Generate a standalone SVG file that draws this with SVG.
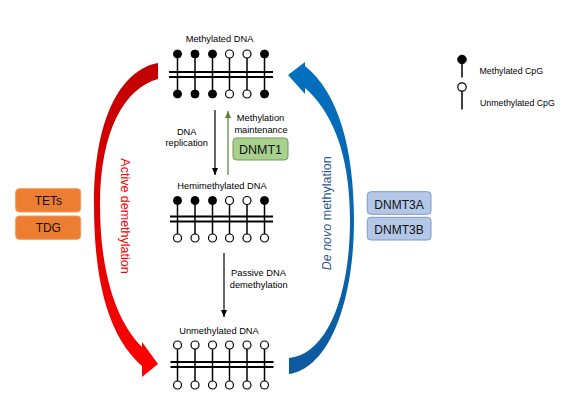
<svg xmlns="http://www.w3.org/2000/svg" width="573" height="404" viewBox="0 0 573 404">
<style>
  text { font-family: "Liberation Sans", Arial, sans-serif; fill: #000; }
  .lbl { font-size: 9.3px; text-anchor: middle; }
  .box { font-size: 12px; text-anchor: middle; fill: #111; }
  .leg { font-size: 8.8px; }
  .stem { stroke: #000; stroke-width: 1.5; }
  .bb { stroke: #000; stroke-width: 2; }
  .m { fill: #000; stroke: #000; stroke-width: 1; }
  .u { fill: #fff; stroke: #000; stroke-width: 1.2; }
  .arr { stroke: #000; stroke-width: 1.2; fill: none; }
</style>
<defs>
  <marker id="ahBlack" markerUnits="userSpaceOnUse" markerWidth="7" markerHeight="6" refX="7" refY="3" orient="auto">
    <path d="M0,0 L7,3 L0,6 z" fill="#000"/>
  </marker>
  <marker id="ahGreen" markerUnits="userSpaceOnUse" markerWidth="7" markerHeight="6" refX="7" refY="3" orient="auto">
    <path d="M0,0 L7,3 L0,6 z" fill="#548235"/>
  </marker>
  <linearGradient id="gRed" gradientUnits="userSpaceOnUse" x1="0" y1="63" x2="0" y2="377">
    <stop offset="0" stop-color="#C00000"/>
    <stop offset="1" stop-color="#FF0000"/>
  </linearGradient>
  <linearGradient id="gBlue" gradientUnits="userSpaceOnUse" x1="0" y1="62" x2="0" y2="374">
    <stop offset="0" stop-color="#0070C0"/>
    <stop offset="1" stop-color="#0E5AA0"/>
  </linearGradient>
</defs>

<!-- Methylated DNA -->
<g id="node-methylated">
  <text class="lbl" x="219.5" y="42">Methylated DNA</text>
  <g class="stem">
    <line x1="177.5" y1="54" x2="177.5" y2="94"/>
    <line x1="195" y1="54" x2="195" y2="94"/>
    <line x1="212.5" y1="54" x2="212.5" y2="94"/>
    <line x1="229.5" y1="54" x2="229.5" y2="94"/>
    <line x1="247" y1="54" x2="247" y2="94"/>
    <line x1="264.5" y1="54" x2="264.5" y2="94"/>
  </g>
  <line class="bb" x1="169" y1="72" x2="273" y2="72"/>
  <line class="bb" x1="169" y1="77" x2="273" y2="77"/>
  <circle class="m" cx="177.5" cy="54" r="4"/>
  <circle class="m" cx="195" cy="54" r="4"/>
  <circle class="m" cx="212.5" cy="54" r="4"/>
  <circle class="u" cx="229.5" cy="54" r="4"/>
  <circle class="u" cx="247" cy="54" r="4"/>
  <circle class="m" cx="264.5" cy="54" r="4"/>
  <circle class="m" cx="177.5" cy="94" r="4"/>
  <circle class="m" cx="195" cy="94" r="4"/>
  <circle class="m" cx="212.5" cy="94" r="4"/>
  <circle class="u" cx="229.5" cy="94" r="4"/>
  <circle class="u" cx="247" cy="94" r="4"/>
  <circle class="m" cx="264.5" cy="94" r="4"/>
</g>

<!-- Hemimethylated DNA -->
<g id="node-hemimethylated">
  <text class="lbl" x="222" y="189">Hemimethylated DNA</text>
  <g class="stem">
    <line x1="177.5" y1="200.5" x2="177.5" y2="238"/>
    <line x1="195" y1="200.5" x2="195" y2="238"/>
    <line x1="212.5" y1="200.5" x2="212.5" y2="238"/>
    <line x1="229.5" y1="200.5" x2="229.5" y2="238"/>
    <line x1="247" y1="200.5" x2="247" y2="238"/>
    <line x1="264.5" y1="200.5" x2="264.5" y2="238"/>
  </g>
  <line class="bb" x1="170" y1="216.5" x2="273" y2="216.5"/>
  <line class="bb" x1="170" y1="221.5" x2="273" y2="221.5"/>
  <circle class="m" cx="177.5" cy="200.5" r="4"/>
  <circle class="m" cx="195" cy="200.5" r="4"/>
  <circle class="m" cx="212.5" cy="200.5" r="4"/>
  <circle class="u" cx="229.5" cy="200.5" r="4"/>
  <circle class="u" cx="247" cy="200.5" r="4"/>
  <circle class="m" cx="264.5" cy="200.5" r="4"/>
  <circle class="u" cx="177.5" cy="238" r="4"/>
  <circle class="u" cx="195" cy="238" r="4"/>
  <circle class="u" cx="212.5" cy="238" r="4"/>
  <circle class="u" cx="229.5" cy="238" r="4"/>
  <circle class="u" cx="247" cy="238" r="4"/>
  <circle class="u" cx="264.5" cy="238" r="4"/>
</g>

<!-- Unmethylated DNA -->
<g id="node-unmethylated">
  <text class="lbl" x="219" y="334">Unmethylated DNA</text>
  <g class="stem">
    <line x1="177.5" y1="345" x2="177.5" y2="385"/>
    <line x1="195" y1="345" x2="195" y2="385"/>
    <line x1="212.5" y1="345" x2="212.5" y2="385"/>
    <line x1="229.5" y1="345" x2="229.5" y2="385"/>
    <line x1="247" y1="345" x2="247" y2="385"/>
    <line x1="264.5" y1="345" x2="264.5" y2="385"/>
  </g>
  <line class="bb" x1="170.5" y1="362" x2="273.5" y2="362"/>
  <line class="bb" x1="170.5" y1="367" x2="273.5" y2="367"/>
  <circle class="u" cx="177.5" cy="345" r="4"/>
  <circle class="u" cx="195" cy="345" r="4"/>
  <circle class="u" cx="212.5" cy="345" r="4"/>
  <circle class="u" cx="229.5" cy="345" r="4"/>
  <circle class="u" cx="247" cy="345" r="4"/>
  <circle class="u" cx="264.5" cy="345" r="4"/>
  <circle class="u" cx="177.5" cy="385" r="4"/>
  <circle class="u" cx="195" cy="385" r="4"/>
  <circle class="u" cx="212.5" cy="385" r="4"/>
  <circle class="u" cx="229.5" cy="385" r="4"/>
  <circle class="u" cx="247" cy="385" r="4"/>
  <circle class="u" cx="264.5" cy="385" r="4"/>
</g>

<!-- Enzyme boxes -->
<g id="node-tets">
  <rect x="15.7" y="188.7" width="65" height="23.3" rx="3.5" fill="#ED7D31" stroke="#F29A5C" stroke-width="1"/>
  <text class="box" x="48.3" y="205">TETs</text>
</g>
<g id="node-tdg">
  <rect x="15.7" y="216" width="65" height="23.3" rx="3.5" fill="#ED7D31" stroke="#F29A5C" stroke-width="1"/>
  <text class="box" x="48.3" y="232">TDG</text>
</g>
<g id="node-dnmt1">
  <rect x="233" y="138" width="55" height="22" rx="3.5" fill="#A9D18E" stroke="#6E9B50" stroke-width="1"/>
  <text class="box" x="260.5" y="153.5" style="font-size:12.5px">DNMT1</text>
</g>
<g id="node-dnmt3a">
  <rect x="367.3" y="191.7" width="63.7" height="22.6" rx="3.5" fill="#B4C7E7" stroke="#7C98CB" stroke-width="1"/>
  <text class="box" x="399" y="208.5">DNMT3A</text>
</g>
<g id="node-dnmt3b">
  <rect x="367.3" y="217.3" width="63.7" height="22.7" rx="3.5" fill="#B4C7E7" stroke="#7C98CB" stroke-width="1"/>
  <text class="box" x="399" y="234.3">DNMT3B</text>
</g>

<!-- Legend -->
<g id="legend">
  <line class="stem" x1="462" y1="59.5" x2="462" y2="77.5"/>
  <circle class="m" cx="462" cy="59.5" r="4.3"/>
  <text class="leg" x="479.5" y="74">Methylated CpG</text>
  <line class="stem" x1="462" y1="87" x2="462" y2="109.5"/>
  <circle class="u" cx="462" cy="87" r="4.2"/>
  <text class="leg" x="480" y="105.5">Unmethylated CpG</text>
</g>

<!-- Connectors -->
<g id="connectors">
  <line class="arr" x1="215" y1="110" x2="215" y2="175" marker-end="url(#ahBlack)"/>
  <text class="lbl" x="186.7" y="134.5">DNA</text>
  <text class="lbl" x="186.7" y="146">replication</text>

  <line x1="228" y1="175" x2="228" y2="111" stroke="#548235" stroke-width="1.2" marker-end="url(#ahGreen)"/>
  <text class="lbl" x="260.5" y="121">Methylation</text>
  <text class="lbl" x="261" y="133">maintenance</text>

  <line class="arr" x1="224" y1="253" x2="224" y2="317" marker-end="url(#ahBlack)"/>
  <text class="lbl" x="258.5" y="276">Passive DNA</text>
  <text class="lbl" x="258.7" y="288">demethylation</text>

  <path d="M158,63 L158,79 C125,88 100,130 100,205 C100,265 113,318 142,347 L142,342 L158,364 L142,377 L142,366 C110,338 94,285 94,205 C94,120 120,70 158,63 Z" fill="url(#gRed)"/>
  <text transform="translate(120.5,216) rotate(90)" style="font-size:12.5px; text-anchor:middle; fill:#FF0000">Active demethylation</text>

  <path d="M289,358 L289,374 C330,368 354,300 354,220 C354,148 338,92 305,66 L305,62 L288,75 L305,94 L305,88 C330,110 350,150 350,220 C350,300 325,355 289,358 Z" fill="url(#gBlue)"/>
  <text transform="translate(331,213.3) rotate(-90)" style="font-size:12.5px; text-anchor:middle; fill:#2F5597"><tspan font-style="italic">De novo</tspan> methylation</text>
</g>
</svg>
